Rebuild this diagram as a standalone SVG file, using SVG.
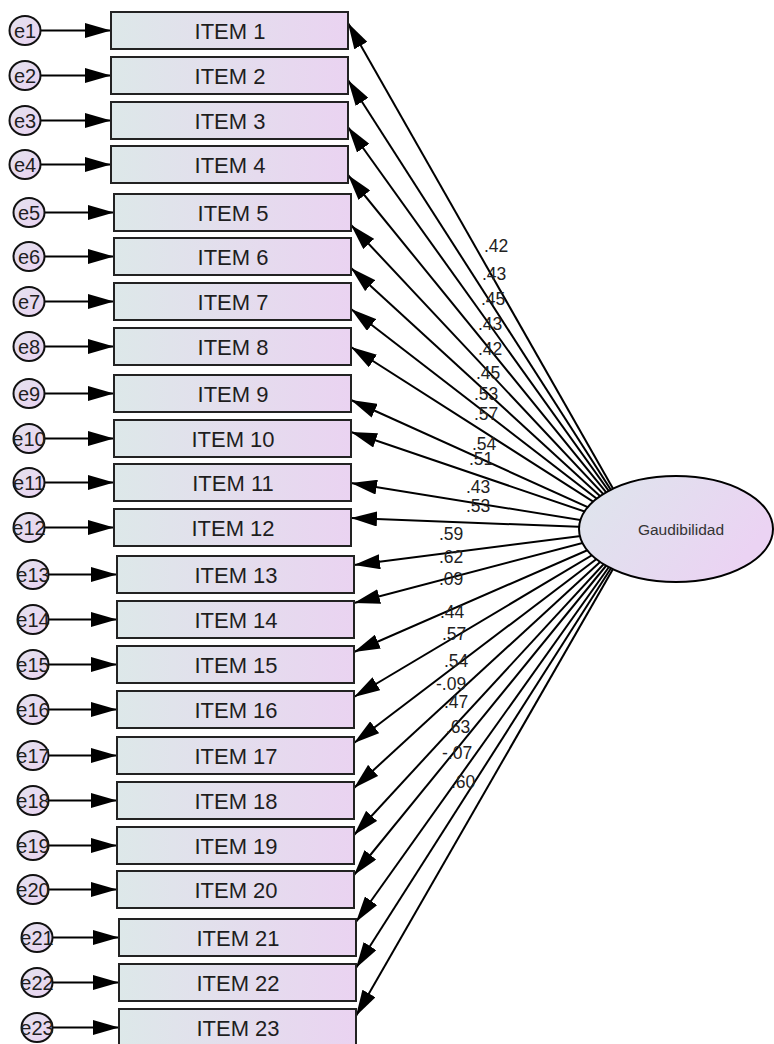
<svg xmlns="http://www.w3.org/2000/svg" width="774" height="1044" viewBox="0 0 774 1044">
<defs>
<linearGradient id="gBox" x1="0" y1="0" x2="1" y2="0"><stop offset="0" stop-color="#dde8e9"/><stop offset="1" stop-color="#ead3f1"/></linearGradient>
<linearGradient id="gCirc" x1="0" y1="0" x2="1" y2="1"><stop offset="0" stop-color="#e4e2ee"/><stop offset="1" stop-color="#e9d2f1"/></linearGradient>
<linearGradient id="gEll" x1="0" y1="0" x2="1" y2="0.4"><stop offset="0" stop-color="#dde6ec"/><stop offset="1" stop-color="#ebd3f3"/></linearGradient>
<marker id="ah" markerUnits="userSpaceOnUse" viewBox="0 0 26 15" markerWidth="26" markerHeight="15" refX="26" refY="7.5" orient="auto"><path d="M0,0 L26,7.5 L0,15 z" fill="#000"/></marker>
</defs>
<style>
.box{fill:url(#gBox);stroke:#222;stroke-width:2}
.bt{font-family:"Liberation Sans",Arial,sans-serif;font-size:22px;fill:#1e1e1e;text-anchor:middle}
.ec{fill:url(#gCirc);stroke:#111;stroke-width:2}
.et{font-family:"Liberation Sans",Arial,sans-serif;font-size:20px;fill:#1e1e1e;text-anchor:middle}
.ln{stroke:#000;stroke-width:2;fill:none;marker-end:url(#ah)}
.lb{font-family:"Liberation Sans",Arial,sans-serif;font-size:17.5px;fill:#222}
.el{fill:url(#gEll);stroke:#000;stroke-width:2}
.lt{font-family:"Liberation Sans",Arial,sans-serif;font-size:15.5px;fill:#333;text-anchor:middle}
</style>
<g id="connectors">
<line class="ln" x1="636" y1="529" x2="348" y2="23"/>
<line class="ln" x1="636" y1="529" x2="348" y2="80"/>
<line class="ln" x1="636" y1="529" x2="348" y2="127"/>
<line class="ln" x1="636" y1="529" x2="348" y2="175"/>
<line class="ln" x1="636" y1="529" x2="351" y2="225"/>
<line class="ln" x1="636" y1="529" x2="351" y2="268"/>
<line class="ln" x1="636" y1="529" x2="351" y2="309"/>
<line class="ln" x1="636" y1="529" x2="351" y2="347"/>
<line class="ln" x1="636" y1="529" x2="351" y2="400"/>
<line class="ln" x1="636" y1="529" x2="351" y2="432"/>
<line class="ln" x1="636" y1="529" x2="351" y2="483"/>
<line class="ln" x1="636" y1="529" x2="351" y2="518"/>
<line class="ln" x1="636" y1="529" x2="354" y2="565"/>
<line class="ln" x1="636" y1="529" x2="354" y2="603"/>
<line class="ln" x1="636" y1="529" x2="354" y2="652"/>
<line class="ln" x1="636" y1="529" x2="354" y2="697"/>
<line class="ln" x1="636" y1="529" x2="354" y2="743"/>
<line class="ln" x1="636" y1="529" x2="354" y2="788"/>
<line class="ln" x1="636" y1="529" x2="354" y2="835"/>
<line class="ln" x1="636" y1="529" x2="354" y2="875"/>
<line class="ln" x1="636" y1="529" x2="356" y2="922"/>
<line class="ln" x1="636" y1="529" x2="356" y2="968"/>
<line class="ln" x1="636" y1="529" x2="356" y2="1016"/>
<line class="ln" x1="40.5" y1="30.5" x2="111" y2="30.5"/>
<line class="ln" x1="40.5" y1="75.5" x2="111" y2="75.5"/>
<line class="ln" x1="40.5" y1="120.5" x2="111" y2="120.5"/>
<line class="ln" x1="40.5" y1="164.5" x2="111" y2="164.5"/>
<line class="ln" x1="44.5" y1="212.5" x2="114" y2="212.5"/>
<line class="ln" x1="44.5" y1="256.5" x2="114" y2="256.5"/>
<line class="ln" x1="44.5" y1="301.5" x2="114" y2="301.5"/>
<line class="ln" x1="44.5" y1="346.5" x2="114" y2="346.5"/>
<line class="ln" x1="44.5" y1="393.5" x2="114" y2="393.5"/>
<line class="ln" x1="44.5" y1="438.5" x2="114" y2="438.5"/>
<line class="ln" x1="44.5" y1="482.5" x2="114" y2="482.5"/>
<line class="ln" x1="44.5" y1="527.5" x2="114" y2="527.5"/>
<line class="ln" x1="48.5" y1="574.5" x2="117" y2="574.5"/>
<line class="ln" x1="48.5" y1="619.5" x2="117" y2="619.5"/>
<line class="ln" x1="48.5" y1="664.5" x2="117" y2="664.5"/>
<line class="ln" x1="48.5" y1="709.5" x2="117" y2="709.5"/>
<line class="ln" x1="48.5" y1="755.5" x2="117" y2="755.5"/>
<line class="ln" x1="48.5" y1="800.5" x2="117" y2="800.5"/>
<line class="ln" x1="48.5" y1="845.5" x2="117" y2="845.5"/>
<line class="ln" x1="48.5" y1="889.5" x2="117" y2="889.5"/>
<line class="ln" x1="52.5" y1="937.5" x2="119" y2="937.5"/>
<line class="ln" x1="52.5" y1="982.5" x2="119" y2="982.5"/>
<line class="ln" x1="52.5" y1="1027.5" x2="119" y2="1027.5"/>
</g>
<g id="latent">
<ellipse class="el" cx="676" cy="529" rx="97" ry="53"/>
<text class="lt" x="681" y="535">Gaudibilidad</text>
</g>
<g id="item1"><rect class="box" x="111" y="12" width="237" height="37"/><text class="bt" x="230" y="38.5">ITEM 1</text></g>
<g id="item2"><rect class="box" x="111" y="57" width="237" height="37"/><text class="bt" x="230" y="83.5">ITEM 2</text></g>
<g id="item3"><rect class="box" x="111" y="102" width="237" height="37"/><text class="bt" x="230" y="128.5">ITEM 3</text></g>
<g id="item4"><rect class="box" x="111" y="146" width="237" height="37"/><text class="bt" x="230" y="172.5">ITEM 4</text></g>
<g id="item5"><rect class="box" x="114" y="194" width="237" height="37"/><text class="bt" x="233" y="220.5">ITEM 5</text></g>
<g id="item6"><rect class="box" x="114" y="238" width="237" height="37"/><text class="bt" x="233" y="264.5">ITEM 6</text></g>
<g id="item7"><rect class="box" x="114" y="283" width="237" height="37"/><text class="bt" x="233" y="309.5">ITEM 7</text></g>
<g id="item8"><rect class="box" x="114" y="328" width="237" height="37"/><text class="bt" x="233" y="354.5">ITEM 8</text></g>
<g id="item9"><rect class="box" x="114" y="375" width="237" height="37"/><text class="bt" x="233" y="401.5">ITEM 9</text></g>
<g id="item10"><rect class="box" x="114" y="420" width="237" height="37"/><text class="bt" x="233" y="446.5">ITEM 10</text></g>
<g id="item11"><rect class="box" x="114" y="464" width="237" height="37"/><text class="bt" x="233" y="490.5">ITEM 11</text></g>
<g id="item12"><rect class="box" x="114" y="509" width="237" height="37"/><text class="bt" x="233" y="535.5">ITEM 12</text></g>
<g id="item13"><rect class="box" x="117" y="556" width="237" height="37"/><text class="bt" x="236" y="582.5">ITEM 13</text></g>
<g id="item14"><rect class="box" x="117" y="601" width="237" height="37"/><text class="bt" x="236" y="627.5">ITEM 14</text></g>
<g id="item15"><rect class="box" x="117" y="646" width="237" height="37"/><text class="bt" x="236" y="672.5">ITEM 15</text></g>
<g id="item16"><rect class="box" x="117" y="691" width="237" height="37"/><text class="bt" x="236" y="717.5">ITEM 16</text></g>
<g id="item17"><rect class="box" x="117" y="737" width="237" height="37"/><text class="bt" x="236" y="763.5">ITEM 17</text></g>
<g id="item18"><rect class="box" x="117" y="782" width="237" height="37"/><text class="bt" x="236" y="808.5">ITEM 18</text></g>
<g id="item19"><rect class="box" x="117" y="827" width="237" height="37"/><text class="bt" x="236" y="853.5">ITEM 19</text></g>
<g id="item20"><rect class="box" x="117" y="871" width="237" height="37"/><text class="bt" x="236" y="897.5">ITEM 20</text></g>
<g id="item21"><rect class="box" x="119" y="919" width="237" height="37"/><text class="bt" x="238" y="945.5">ITEM 21</text></g>
<g id="item22"><rect class="box" x="119" y="964" width="237" height="37"/><text class="bt" x="238" y="990.5">ITEM 22</text></g>
<g id="item23"><rect class="box" x="119" y="1009" width="237" height="37"/><text class="bt" x="238" y="1035.5">ITEM 23</text></g>
<g id="e1"><ellipse class="ec" cx="25" cy="30.5" rx="15.5" ry="14.5"/><text class="et" x="25" y="37.5">e1</text></g>
<g id="e2"><ellipse class="ec" cx="25" cy="75.5" rx="15.5" ry="14.5"/><text class="et" x="25" y="82.5">e2</text></g>
<g id="e3"><ellipse class="ec" cx="25" cy="120.5" rx="15.5" ry="14.5"/><text class="et" x="25" y="127.5">e3</text></g>
<g id="e4"><ellipse class="ec" cx="25" cy="164.5" rx="15.5" ry="14.5"/><text class="et" x="25" y="171.5">e4</text></g>
<g id="e5"><ellipse class="ec" cx="29" cy="212.5" rx="15.5" ry="14.5"/><text class="et" x="29" y="219.5">e5</text></g>
<g id="e6"><ellipse class="ec" cx="29" cy="256.5" rx="15.5" ry="14.5"/><text class="et" x="29" y="263.5">e6</text></g>
<g id="e7"><ellipse class="ec" cx="29" cy="301.5" rx="15.5" ry="14.5"/><text class="et" x="29" y="308.5">e7</text></g>
<g id="e8"><ellipse class="ec" cx="29" cy="346.5" rx="15.5" ry="14.5"/><text class="et" x="29" y="353.5">e8</text></g>
<g id="e9"><ellipse class="ec" cx="29" cy="393.5" rx="15.5" ry="14.5"/><text class="et" x="29" y="400.5">e9</text></g>
<g id="e10"><ellipse class="ec" cx="29" cy="438.5" rx="15.5" ry="14.5"/><text class="et" x="29" y="445.5">e10</text></g>
<g id="e11"><ellipse class="ec" cx="29" cy="482.5" rx="15.5" ry="14.5"/><text class="et" x="29" y="489.5">e11</text></g>
<g id="e12"><ellipse class="ec" cx="29" cy="527.5" rx="15.5" ry="14.5"/><text class="et" x="29" y="534.5">e12</text></g>
<g id="e13"><ellipse class="ec" cx="33" cy="574.5" rx="15.5" ry="14.5"/><text class="et" x="33" y="581.5">e13</text></g>
<g id="e14"><ellipse class="ec" cx="33" cy="619.5" rx="15.5" ry="14.5"/><text class="et" x="33" y="626.5">e14</text></g>
<g id="e15"><ellipse class="ec" cx="33" cy="664.5" rx="15.5" ry="14.5"/><text class="et" x="33" y="671.5">e15</text></g>
<g id="e16"><ellipse class="ec" cx="33" cy="709.5" rx="15.5" ry="14.5"/><text class="et" x="33" y="716.5">e16</text></g>
<g id="e17"><ellipse class="ec" cx="33" cy="755.5" rx="15.5" ry="14.5"/><text class="et" x="33" y="762.5">e17</text></g>
<g id="e18"><ellipse class="ec" cx="33" cy="800.5" rx="15.5" ry="14.5"/><text class="et" x="33" y="807.5">e18</text></g>
<g id="e19"><ellipse class="ec" cx="33" cy="845.5" rx="15.5" ry="14.5"/><text class="et" x="33" y="852.5">e19</text></g>
<g id="e20"><ellipse class="ec" cx="33" cy="889.5" rx="15.5" ry="14.5"/><text class="et" x="33" y="896.5">e20</text></g>
<g id="e21"><ellipse class="ec" cx="37" cy="937.5" rx="15.5" ry="14.5"/><text class="et" x="37" y="944.5">e21</text></g>
<g id="e22"><ellipse class="ec" cx="37" cy="982.5" rx="15.5" ry="14.5"/><text class="et" x="37" y="989.5">e22</text></g>
<g id="e23"><ellipse class="ec" cx="37" cy="1027.5" rx="15.5" ry="14.5"/><text class="et" x="37" y="1034.5">e23</text></g>
<g id="labels">
<text class="lb" x="484" y="252">.42</text>
<text class="lb" x="482" y="280">.43</text>
<text class="lb" x="481" y="305">.45</text>
<text class="lb" x="478" y="330">.43</text>
<text class="lb" x="478" y="355">.42</text>
<text class="lb" x="476" y="379">.45</text>
<text class="lb" x="474" y="400">.53</text>
<text class="lb" x="474" y="420">.57</text>
<text class="lb" x="472" y="450">.54</text>
<text class="lb" x="469" y="465">.51</text>
<text class="lb" x="466" y="493">.43</text>
<text class="lb" x="466" y="512">.53</text>
<text class="lb" x="439" y="540">.59</text>
<text class="lb" x="439" y="563">.62</text>
<text class="lb" x="439" y="585">.09</text>
<text class="lb" x="440" y="618">.44</text>
<text class="lb" x="442" y="640">.57</text>
<text class="lb" x="444" y="667">.54</text>
<text class="lb" x="436" y="690">-.09</text>
<text class="lb" x="444" y="708">.47</text>
<text class="lb" x="446" y="733">.63</text>
<text class="lb" x="442" y="759">-.07</text>
<text class="lb" x="451" y="788">.60</text>
</g>
</svg>
